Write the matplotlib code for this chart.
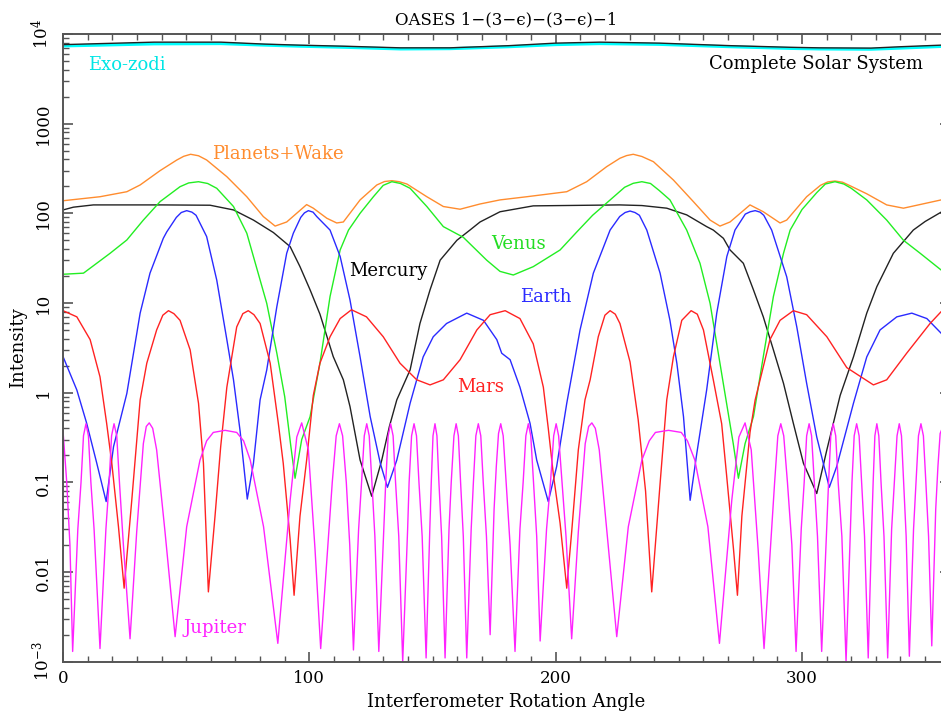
import matplotlib
matplotlib.use("Agg")
import matplotlib.pyplot as plt
from matplotlib.ticker import FixedLocator, LogLocator, NullFormatter

plt.rcParams["font.family"] = ["DejaVu Serif"]
plt.rcParams["mathtext.fontset"] = "dejavuserif"

# ---- data (angle in degrees, intensity) ----
zodi_x = [0, 15, 37, 64, 82, 96, 114, 137, 157, 181, 200, 218, 242, 271, 295, 307, 328, 340, 356.5, 360]
zodi_y = [7350, 7500, 7750, 7800, 7500, 7300, 7100, 6800, 6850, 7200, 7600, 7800, 7650, 7200, 6900, 6800,
          6750, 6950, 7250, 7350]

total_x = zodi_x
total_y = [7600, 7800, 8100, 8100, 7700, 7500, 7300, 7000, 7000, 7400, 7900, 8100, 7900, 7400, 7100, 7000,
           6950, 7200, 7500, 7600]

wake_x = [0, 15, 25.9, 31.3, 39.4, 46.2, 49.0, 51.8, 55.0, 58.3, 66.5, 74.6, 81.3, 86.1, 90.8, 98.9, 101.6,
          107.1, 111.1, 113.8, 120.6, 127.4, 130.5, 133.5, 136.5, 139.6, 147.7, 154.4, 161.2, 169.3, 177.4,
          188.3, 204.5, 212.6, 220.7, 226.1, 228.8, 231.5, 235.0, 239.7, 247.8, 255.9, 262.7, 266.7, 270.8,
          278.9, 284.3, 291.1, 293.8, 301.9, 307.5, 310.5, 313.4, 316.5, 320.0, 326.3, 334.4, 341.2, 356.5,
          360]
wake_y = [138, 153, 174, 207, 299, 393, 432, 455, 438, 393, 256, 153, 92, 72, 80, 125, 114,
          88, 78, 80, 141, 207, 226, 231, 225, 212, 153, 119, 111, 127, 141,
          153, 174, 225, 331, 411, 440, 455, 430, 376, 235, 135, 84, 72, 80,
          124, 104, 78, 84, 153, 205, 224, 229, 222, 200, 165, 124, 114, 141,
          150]

venus_x = [0, 8.3, 19.1, 25.9, 32.6, 39.4, 47.5, 51.0, 55.0, 58.7, 62.4, 69.2, 74.6, 77.3, 82.7, 86.8, 90.0,
           92.5, 94.2, 96.9, 100.3, 104.3, 108.4, 112.5, 115.9, 120.6, 126.0, 130.0, 133.5, 137.0, 140.9,
           147.7, 154.4, 162.5, 172.0, 177.4, 182.8, 190.9, 201.8, 208.6, 215.0, 222.0, 228.0, 231.5,
           235.0, 238.5, 242.0, 246.4, 253.2, 258.6, 262.7, 266.7, 272.1, 274.2, 276.9, 280.3, 284.3,
           288.4, 292.5, 295.2, 300.0, 306.0, 309.5, 313.4, 317.0, 320.0, 326.3, 334.4, 341.2, 348.0,
           356.5, 360]
venus_y = [20.9, 21.5, 35.8, 50.4, 84, 135, 198, 218, 225, 215, 190, 119, 60, 32.9, 9.9, 2.75, 0.9,
           0.25, 0.111, 0.30, 0.54, 2.13, 11.8, 39, 65, 100, 153, 205, 225, 215, 190,
           119, 71, 54, 30, 22.5, 20.5, 25.4, 39, 62, 95, 140, 195, 216,
           225, 215, 180, 141, 65, 27.7, 9.9, 2.13, 0.27, 0.111, 0.27, 0.54, 2.52,
           11.8, 35.8, 65, 110, 170, 212, 225, 212, 190, 141, 84, 50, 35.8,
           23.3, 21]

mercury_x = [0, 4.2, 12.3, 40, 59.7, 69.2, 77.3, 85.4, 92.2, 96.2, 100.3, 104.3, 109.7, 113.8, 116.5,
             120.6, 125.3, 129.4, 132.5, 135.5, 140.9, 144.9, 149.0, 153.1, 159.9, 165.2, 169.3, 177.4,
             190.9, 226, 235, 245.1, 253.2, 261.3, 264.0, 268.1, 270.8, 276.2, 280.3, 284.3, 288.4, 292.5,
             296.5, 300.6, 306.0, 310.1, 315.5, 320.9, 326.3, 330.4, 337.1, 345.2, 350.0, 356.5, 360]
mercury_y = [109, 117, 124, 124, 123, 109, 84, 61, 42.5, 25.4, 14, 7.5, 2.52, 1.39, 0.70,
             0.177, 0.070, 0.177, 0.42, 0.83, 1.79, 5.9, 14, 30, 50, 65, 80, 104,
             121, 124, 122, 114, 96, 71, 65, 52.6, 39, 27.7, 14, 7, 3, 1.27,
             0.455, 0.163, 0.075, 0.23, 0.93, 2.5, 7.7, 15.2, 35.8, 65, 81, 103, 110]

earth_x = [0, 5.6, 9.6, 13.7, 17.5, 20.5, 25.9, 31.3, 35.3, 40.7, 42.1, 46.0, 48.0, 50.2, 52.3, 54.0, 58.3,
           62.4, 66.5, 69.2, 71.9, 74.8, 77.3, 80.0, 82.7, 86.8, 90.8, 93.5, 96.5, 98.0, 99.6, 101.5, 103.0,
           108.4, 112.5, 116.5, 120.6, 124.7, 128.8, 131.7, 135.5, 140.9, 146.2, 150.3, 155.7, 163.9,
           170.7, 176.1, 178.1, 181.5, 185.5, 189.6, 192.3, 197.0, 200.4, 204.5, 209.9, 215.3, 222.1,
           226.0, 228.2, 230.2, 232.2, 234.0, 237.0, 242.4, 246.4, 249.2, 251.9, 254.6, 257.3, 261.3,
           265.4, 269.5, 272.8, 277.0, 279.0, 281.0, 283.0, 284.5, 287.7, 293.8, 297.9, 301.9, 306.0,
           311.1, 314.1, 320.9, 326.3, 331.7, 338.5, 344.6, 350.7, 356.5, 360]
earth_y = [2.52, 1.07, 0.455, 0.163, 0.061, 0.25, 0.98, 7.7, 21.5, 52.6, 62, 90, 102, 107, 103, 95, 55,
           18, 3.9, 1.39, 0.37, 0.065, 0.163, 0.83, 1.79, 9.1, 35.8, 60, 90, 101, 107, 103, 92,
           65, 33, 10.8, 2.5, 0.54, 0.163, 0.088, 0.177, 0.76, 2.5, 4.2, 5.9, 7.7,
           6.4, 3.9, 2.75, 2.33, 1.15, 0.455, 0.177, 0.061, 0.15, 0.76, 5, 21.5, 65,
           92, 102, 106, 102, 95, 65, 21.5, 6.4, 2.13, 0.54, 0.063, 0.21, 1.07,
           7.7, 33, 65, 98, 104, 107, 103, 95, 65, 19.6, 5.4, 1.27, 0.32,
           0.088, 0.15, 0.76, 2.5, 5.0, 7.0, 7.7, 6.7, 4.6, 3.4]

mars_x = [0, 5.6, 11.0, 15.0, 17.7, 19.8, 22.5, 24.8, 27.9, 31.3, 34.0, 38.0, 40.5, 42.8, 45.0, 47.5, 51.6,
          55.0, 57.0, 59.0, 61.7, 64.0, 66.5, 70.5, 73.0, 75.2, 77.5, 80.0, 84.1, 87.4, 89.4, 92.2, 93.8,
          96.2, 98.9, 101.6, 104.3, 108.4, 112.5, 117.1, 123.2, 130.0, 136.8, 143.6, 149.0, 154.4, 161.2,
          168.0, 173.4, 179.5, 185.5, 190.9, 195.0, 197.0, 199.1, 201.8, 204.5, 206.5, 209.2, 211.9,
          214.0, 217.3, 220.0, 222.1, 224.2, 226.1, 230.2, 233.5, 236.5, 239.0, 242.4, 245.1, 247.8,
          251.2, 255.0, 257.5, 260.0, 264.0, 267.4, 269.4, 272.2, 273.8, 275.6, 278.9, 281.0, 283.0,
          287.0, 291.1, 296.5, 301.9, 310.1, 318.2, 329.0, 334.4, 342.5, 352.0, 356.5, 360]
mars_y = [8.2, 7, 3.9, 1.5, 0.455, 0.163, 0.032, 0.0066, 0.063, 0.83, 2.13, 5, 7.3, 8.2, 7.6, 6.4, 3,
          0.76, 0.163, 0.0060, 0.042, 0.25, 1.15, 5.4, 7.6, 8.2, 7.4, 5.9, 2.13, 0.455, 0.163, 0.023, 0.0055,
          0.042, 0.177, 0.93, 2.13, 4.2, 6.7, 8.4, 7, 4.2, 2.13, 1.39, 1.22, 1.39, 2.33,
          5, 7.4, 8.2, 6.7, 3.5, 1.15, 0.4, 0.12, 0.035, 0.0066, 0.028, 0.23, 0.83,
          1.39, 4.2, 7.3, 8.2, 7.5, 5.9, 2.2, 0.5, 0.08, 0.006, 0.097, 0.83, 2.5,
          6.4, 8.2, 7.5, 5, 1.39, 0.45, 0.12, 0.018, 0.0055, 0.042, 0.36, 0.83, 1.39,
          3.9, 6.4, 8.2, 7.4, 4.2, 1.9, 1.22, 1.39, 2.75, 5.9, 8.0, 8.2]

jupiter_x = [0, 1.5, 2.8, 3.9,
             6.0, 7.3, 8.3, 9.3, 10.3, 11.3, 12.6, 15.0,
             17.4, 18.7, 19.7, 20.7, 21.8, 22.9, 24.5, 27.2,
             29.9, 32.6, 33.8, 35.0, 36.4, 38.0, 41.4, 45.5,
             50.2, 55.6, 58.3, 61.0, 65.8, 70.5, 73.3, 76.0, 81.4, 87.2,
             92.2, 94.9, 96.9, 99.6, 102.3, 104.6,
             107.5, 109.3, 110.9, 112.2, 113.5, 115.0, 116.4, 117.9,
             120.0, 121.2, 122.3, 123.3, 124.3, 125.4, 126.6, 128.2,
             130.2, 131.0, 132.0, 133.0, 134.0, 135.0, 136.3, 137.9,
             139.9, 140.5, 141.5, 142.5, 143.5, 144.5, 145.8, 147.4,
             148.9, 149.5, 150.2, 151.0, 151.8, 152.6, 153.7, 155.1,
             156.7, 157.6, 158.7, 159.6, 160.5, 161.4, 162.5, 163.9,
             165.7, 166.6, 167.6, 168.6, 169.6, 170.6, 171.9, 173.4,
             175.0, 175.9, 176.8, 177.7, 178.7, 179.9, 181.5, 183.5,
             185.5, 186.8, 187.9, 188.9, 189.9, 191.0, 192.3, 193.7,
             196.3, 197.9, 199.2, 200.2, 201.2, 202.6, 204.2, 206.5,
             209.2, 212.0, 213.4, 214.7, 216.1, 217.7, 220.8, 224.8,
             229.5, 235.0, 238.0, 240.5, 245.8, 251.0, 253.5, 256.5, 261.8, 266.5,
             271.5, 274.4, 276.9, 279.4, 282.2, 284.6,
             287.3, 288.9, 290.2, 291.4, 292.6, 294.1, 295.9, 297.6,
             299.7, 300.9, 301.9, 302.9, 303.9, 305.0, 306.3, 308.0,
             310.0, 310.8, 311.7, 312.7, 313.7, 314.7, 316.2, 317.9,
             319.7, 320.3, 321.2, 322.2, 323.2, 324.2, 325.4, 326.9,
             328.3, 328.9, 329.6, 330.4, 331.2, 332.1, 333.3, 334.8,
             336.4, 337.5, 338.6, 339.5, 340.4, 341.3, 342.3, 343.6,
             345.3, 346.3, 347.3, 348.3, 349.3, 350.3, 351.4, 352.7,
             354.3, 355.2, 356.1, 357.7, 360]
jupiter_y = [0.37, 0.1, 0.02, 0.0013,
             0.03, 0.1, 0.33, 0.45, 0.33, 0.1, 0.03, 0.0014,
             0.03, 0.1, 0.33, 0.45, 0.33, 0.1, 0.02, 0.0018,
             0.028, 0.27, 0.42, 0.46, 0.4, 0.23, 0.028, 0.0019,
             0.032, 0.177, 0.29, 0.36, 0.38, 0.36, 0.29, 0.177, 0.032, 0.0016,
             0.063, 0.32, 0.46, 0.23, 0.018, 0.0014,
             0.02, 0.1, 0.33, 0.45, 0.33, 0.1, 0.02, 0.00135,
             0.03, 0.1, 0.33, 0.45, 0.33, 0.1, 0.025, 0.0013,
             0.03, 0.1, 0.33, 0.45, 0.33, 0.1, 0.025, 0.001,
             0.03, 0.1, 0.33, 0.45, 0.33, 0.1, 0.025, 0.0011,
             0.03, 0.1, 0.33, 0.45, 0.33, 0.1, 0.025, 0.0011,
             0.03, 0.1, 0.33, 0.45, 0.33, 0.1, 0.025, 0.0011,
             0.03, 0.1, 0.33, 0.45, 0.33, 0.1, 0.025, 0.002,
             0.05, 0.15, 0.35, 0.45, 0.33, 0.1, 0.02, 0.0013,
             0.03, 0.1, 0.33, 0.45, 0.33, 0.1, 0.025, 0.0017,
             0.03, 0.1, 0.33, 0.45, 0.33, 0.1, 0.025, 0.0018,
             0.028, 0.27, 0.42, 0.46, 0.4, 0.23, 0.028, 0.0019,
             0.032, 0.177, 0.29, 0.36, 0.38, 0.36, 0.29, 0.177, 0.032, 0.0016,
             0.063, 0.32, 0.46, 0.23, 0.018, 0.0014,
             0.02, 0.1, 0.33, 0.45, 0.33, 0.1, 0.02, 0.0013,
             0.03, 0.1, 0.33, 0.45, 0.33, 0.1, 0.025, 0.0013,
             0.03, 0.1, 0.33, 0.45, 0.33, 0.1, 0.025, 0.001,
             0.03, 0.1, 0.33, 0.45, 0.33, 0.1, 0.025, 0.0011,
             0.03, 0.1, 0.33, 0.45, 0.33, 0.1, 0.025, 0.0011,
             0.03, 0.1, 0.33, 0.45, 0.33, 0.1, 0.025, 0.00115,
             0.03, 0.1, 0.33, 0.45, 0.33, 0.1, 0.025, 0.0015,
             0.05, 0.15, 0.35, 0.45, 0.3]

ytick_vals = [1e-3, 1e-2, 1e-1, 1, 10, 100, 1000, 1e4]
ytick_labels = [r"$10^{-3}$", "0.01", "0.1", "1", "10", "100", "1000", r"$10^{4}$"]

# ---- figure ----
fig = plt.figure(figsize=(9.41, 7.13), dpi=100)
# right edge of the frame lies just past the image edge, like the reference
ax = fig.add_axes([0.067, 0.072, 0.9423, 0.8804])

lw = 1.0
ax.plot(zodi_x, zodi_y, color="#00ffff", linewidth=2.2)
ax.plot(total_x, total_y, color="#222222", linewidth=1.0)
ax.plot(wake_x, wake_y, color="#ff8c2e", linewidth=lw)
ax.plot(mercury_x, mercury_y, color="#222222", linewidth=lw)
ax.plot(venus_x, venus_y, color="#22ee22", linewidth=lw)
ax.plot(earth_x, earth_y, color="#2a2aff", linewidth=lw)
ax.plot(mars_x, mars_y, color="#ff2222", linewidth=lw)
ax.plot(jupiter_x, jupiter_y, color="#ff22ff", linewidth=lw)

ax.set_yscale("log")
ax.set_xlim(0, 360)
ax.set_ylim(1e-3, 1e4)

ax.xaxis.set_major_locator(FixedLocator([0, 100, 200, 300]))
ax.xaxis.set_minor_locator(FixedLocator(range(0, 361, 10)))
ax.yaxis.set_major_locator(FixedLocator(ytick_vals))
ax.yaxis.set_minor_locator(LogLocator(base=10, subs=range(2, 10), numticks=20))
ax.yaxis.set_minor_formatter(NullFormatter())
ax.set_yticklabels(ytick_labels, rotation=90, va="center")

for s in ax.spines.values():
    s.set_color("#555555")
    s.set_linewidth(1.4)
ax.tick_params(which="both", direction="in", top=True, right=True, color="#555555")
ax.tick_params(which="major", length=7, width=1.2, labelsize=12)
ax.tick_params(axis="x", which="major", pad=6)
ax.tick_params(axis="y", which="major", pad=8)
ax.tick_params(which="minor", length=4, width=1.0)

ax.set_xlabel("Interferometer Rotation Angle", fontsize=13, labelpad=4)
ax.set_ylabel("Intensity", fontsize=13, labelpad=2)
ax.set_title("OASES 1\u2212(3\u2212\u03f5)\u2212(3\u2212\u03f5)\u22121", fontsize=12, pad=7)

# curve names
ax.text(10.2, 4500, "Exo-zodi", color="#00e5e5", fontsize=13, va="center")
ax.text(349.2, 4600, "Complete Solar System", color="black", fontsize=13, va="center", ha="right")
ax.text(60.4, 459, "Planets+Wake", color="#ff8c2e", fontsize=13, va="center")
ax.text(174, 46, "Venus", color="#22dd22", fontsize=13, va="center")
ax.text(116.2, 23, "Mercury", color="black", fontsize=13, va="center")
ax.text(185.5, 11.8, "Earth", color="#2a2aff", fontsize=13, va="center")
ax.text(159.8, 1.15, "Mars", color="#ff2222", fontsize=13, va="center")
ax.text(48.8, 0.00236, "Jupiter", color="#ff22ff", fontsize=13, va="center")

fig.savefig("out.png", dpi=100)
